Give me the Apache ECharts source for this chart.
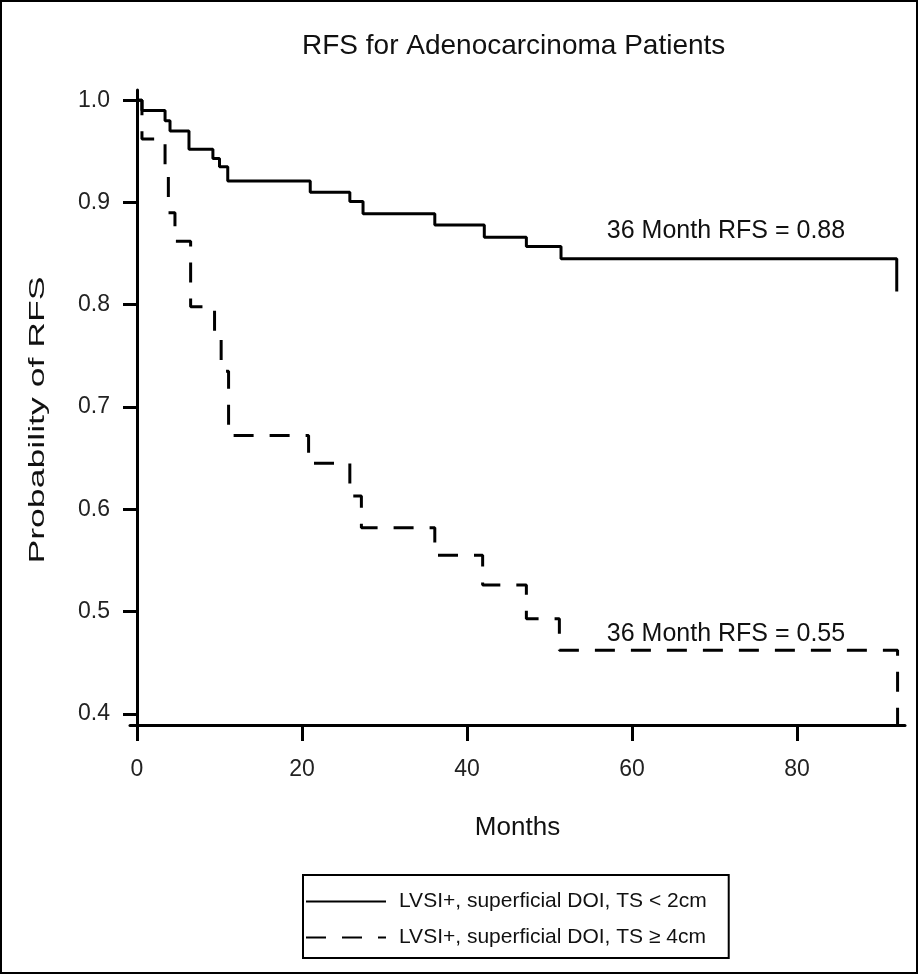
<!DOCTYPE html>
<html>
<head>
<meta charset="utf-8">
<script src="https://cdn.jsdelivr.net/npm/echarts@6/dist/echarts.min.js"></script>
<style>
  html, body { margin: 0; padding: 0; background: #fff; }
  #main { width: 919px; height: 975px; }
</style>
</head>
<body>
<div id="main"></div>
<script>
// Kaplan-Meier steps (months, survival)
const solidMonths = [0, 0.6, 3.4, 4.0, 6.3, 9.2, 10.0, 11.0, 21.0, 25.8, 27.4, 36.1, 42.1, 47.2, 51.4, 92.1]
const solidSurv = [1.0, 0.99, 0.98, 0.97, 0.952, 0.943, 0.935, 0.921, 0.910, 0.901, 0.889, 0.878, 0.866, 0.857, 0.845, 0.813]

const dashMonths = [0, 0.6, 3.4, 3.8, 4.6, 6.5, 9.4, 10.2, 11.1, 20.8, 25.8, 27.2, 36.1, 41.9, 47.2, 51.2, 92.2]
const dashSurv = [1.0, 0.962, 0.935, 0.89, 0.862, 0.798, 0.768, 0.735, 0.672, 0.645, 0.613, 0.582, 0.555, 0.526, 0.493, 0.462, 0.39]

const seriesNames = ['LVSI+, superficial DOI, TS < 2cm', 'LVSI+, superficial DOI, TS \u2265 4cm']
const xTicks = [0, 20, 40, 60, 80]
const yTicks = [0.4, 0.5, 0.6, 0.7, 0.8, 0.9, 1.0]
const notes = ['36 Month RFS = 0.88', '36 Month RFS = 0.55']
const notePos = [[71.4, 0.872], [71.4, 0.478]]

const FONT = "'Liberation Sans', Arial, sans-serif"

function zip(xs, ys) {
  return xs.map((x, i) => [x, ys[i]])
}

const chart = echarts.init(document.getElementById('main'))

const option = {
  backgroundColor: '#fff',
  animation: false,
  title: {
    text: 'RFS for Adenocarcinoma Patients',
    left: 297,
    top: 27,
    textStyle: { fontFamily: FONT, fontSize: 28, fontWeight: 'normal', color: '#111' }
  },
  grid: { left: 130, right: 14, top: 90, bottom: 250 },
  legend: {
    orient: 'vertical',
    left: 303,
    top: 875,
    padding: [16, 22, 10, 2],
    itemGap: 15,
    itemWidth: 80,
    itemHeight: 20,
    borderColor: '#000',
    borderWidth: 2,
    data: seriesNames,
    itemStyle: { opacity: 0 },
    textStyle: { fontFamily: FONT, fontSize: 21, color: '#111', padding: [0, 0, 0, 8] }
  },
  xAxis: {
    type: 'value',
    min: -0.85,
    max: 93.1,
    name: 'Months',
    nameLocation: 'middle',
    nameGap: 90,
    nameTextStyle: { fontFamily: FONT, fontSize: 26, color: '#111' },
    axisLine: { lineStyle: { color: '#000', width: 3 } },
    axisTick: { customValues: xTicks, length: 16, lineStyle: { color: '#000', width: 3 } },
    axisLabel: { customValues: xTicks, margin: 33, fontFamily: FONT, fontSize: 23, color: '#222' },
    splitLine: { show: false }
  },
  yAxis: {
    type: 'value',
    min: 0.389,
    max: 1.01,
    axisLine: { show: true, lineStyle: { color: '#000', width: 3 } },
    axisTick: { show: true, customValues: yTicks, length: 14, lineStyle: { color: '#000', width: 3 } },
    axisLabel: {
      customValues: yTicks,
      margin: 20,
      fontFamily: FONT,
      fontSize: 23,
      color: '#222',
      formatter: v => v.toFixed(1)
    },
    splitLine: { show: false }
  },
  graphic: [
    {
      type: 'rect',
      shape: { x: 1, y: 1, width: 916, height: 972 },
      style: { fill: 'none', stroke: '#000', lineWidth: 2 },
      silent: true
    },
    {
      type: 'text',
      x: 38,
      y: 420,
      rotation: Math.PI / 2,
      scaleX: 1.62,
      style: {
        text: 'Probability of RFS',
        font: "22px 'Liberation Sans', Arial, sans-serif",
        fill: '#111',
        textAlign: 'center',
        textVerticalAlign: 'middle'
      }
    }
  ],
  series: [
    {
      name: seriesNames[0],
      type: 'line',
      step: 'end',
      symbol: 'none',
      data: zip(solidMonths, solidSurv),
      lineStyle: { color: '#000', width: 3 },
      itemStyle: { color: '#000' },
      markPoint: {
        symbol: 'rect',
        symbolSize: 1,
        itemStyle: { color: 'rgba(0,0,0,0)' },
        label: { show: true, position: 'inside', fontFamily: FONT, fontSize: 25, color: '#111', formatter: notes[0] },
        data: [{ coord: notePos[0] }]
      }
    },
    {
      name: seriesNames[1],
      type: 'line',
      step: 'end',
      symbol: 'none',
      data: zip(dashMonths, dashSurv),
      lineStyle: { color: '#000', width: 3, type: [20, 16] },
      itemStyle: { color: '#000' },
      markPoint: {
        symbol: 'rect',
        symbolSize: 1,
        itemStyle: { color: 'rgba(0,0,0,0)' },
        label: { show: true, position: 'inside', fontFamily: FONT, fontSize: 25, color: '#111', formatter: notes[1] },
        data: [{ coord: notePos[1] }]
      }
    }
  ]
}

chart.setOption(option)
</script>
</body>
</html>
